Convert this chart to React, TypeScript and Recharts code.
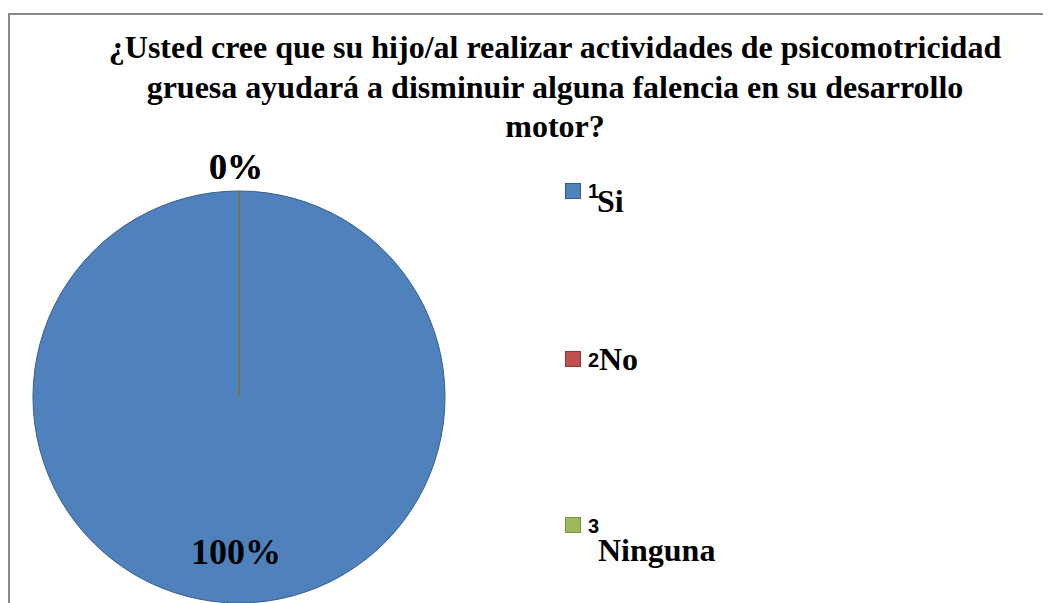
import React from "react";
import { PieChart, Pie, Cell, Legend } from "recharts";

const categories = ["Si", "No", "Ninguna"];
const legendNumbers = ["1", "2", "3"];
const values = [100, 0, 0];
const percentLabels = ["100%", "0%", "0%"];
const titleLines = [
  "¿Usted cree que su hijo/al realizar actividades de psicomotricidad",
  "gruesa ayudará a disminuir alguna falencia en su desarrollo",
  "motor?",
];

const fills = ["#4f81bd", "#c0504d", "#9bbb59"];
const strokes = ["#385d8a", "#8c3836", "#77933c"];

const data = categories.map((name, i) => ({ name, value: values[i], num: legendNumbers[i], pct: percentLabels[i] }));

const SERIF = "'Liberation Serif', 'Times New Roman', serif";
const SANS = "'Liberation Sans', Arial, sans-serif";

// layout of legend entries (name offsets relative to the marker)
const legendLayout = [
  { numTop: -2, nameTop: 2, nameLeft: 32 },
  { numTop: -1, nameTop: -8, nameLeft: 34 },
  { numTop: -1, nameTop: 17, nameLeft: 33 },
];

const RADIAN = Math.PI / 180;

const renderLabel = (props: any) => {
  const { cx, cy, midAngle, outerRadius, index } = props;
  const v = values[index];
  const r = v === 0 ? outerRadius + 24 : outerRadius * 0.75;
  const x = cx + r * Math.cos(-midAngle * RADIAN);
  const y = cy + r * Math.sin(-midAngle * RADIAN);
  const ex = cx + outerRadius * Math.cos(-midAngle * RADIAN);
  const ey = cy + outerRadius * Math.sin(-midAngle * RADIAN);
  return (
    <g key={`lbl-${index}`}>
      {v === 0 && (
        <line x1={cx} y1={cy} x2={ex} y2={ey} stroke={strokes[index]} strokeWidth={1.2} />
      )}
      <text
        x={x - 3}
        y={y + 12}
        textAnchor="middle"
        fontFamily={SERIF}
        fontWeight="bold"
        fontSize={36}
        fill="#000"
      >
        {percentLabels[index]}
      </text>
    </g>
  );
};

const renderLegend = () => (
  <div style={{ position: "relative", width: 200, height: 360 }}>
    {data.map((d, i) => (
      <div key={d.name} style={{ position: "absolute", left: 0, top: [0, 168, 334][i], width: 200, height: 40 }}>
        <div
          style={{
            position: "absolute",
            left: 0,
            top: 0,
            width: 14,
            height: 14,
            background: fills[i],
            border: `1px solid ${strokes[i]}`,
          }}
        />
        <span
          style={{
            position: "absolute",
            left: 23,
            top: legendLayout[i].numTop,
            fontFamily: SANS,
            fontWeight: "bold",
            fontSize: 20,
            lineHeight: 1,
            color: "#000",
          }}
        >
          {d.num}
        </span>
        <span
          style={{
            position: "absolute",
            left: legendLayout[i].nameLeft,
            top: legendLayout[i].nameTop,
            fontFamily: SERIF,
            fontWeight: "bold",
            fontSize: 32,
            lineHeight: 1,
            color: "#000",
            whiteSpace: "nowrap",
          }}
        >
          {d.name}
        </span>
      </div>
    ))}
  </div>
);

export default function App() {
  return (
    <div style={{ position: "relative", width: 1043, height: 595, overflow: "hidden", background: "#fff" }}>
      <div
        style={{
          position: "absolute",
          left: 0,
          top: 5,
          width: 1200,
          height: 800,
          border: "2px solid #888",
          boxSizing: "border-box",
        }}
      />
      <div
        style={{
          position: "absolute",
          left: 47,
          top: 20,
          width: 1000,
          textAlign: "center",
          fontFamily: SERIF,
          fontWeight: "bold",
          fontSize: 32,
          lineHeight: "39.5px",
          color: "#000",
        }}
      >
        {titleLines.map((l, i) => (
          <div key={i}>{l}</div>
        ))}
      </div>
      <div style={{ position: "absolute", left: 0, top: 0 }}>
        <PieChart width={1043} height={595} margin={{ top: 0, right: 0, bottom: 0, left: 0 }}>
          <Pie
            data={data}
            dataKey="value"
            nameKey="name"
            cx={231}
            cy={389}
            outerRadius={206}
            startAngle={90}
            endAngle={-270}
            isAnimationActive={false}
            label={renderLabel}
            labelLine={false}
          >
            {data.map((d, i) => (
              <Cell key={d.name} fill={fills[i]} stroke={strokes[i]} strokeWidth={1} />
            ))}
          </Pie>
          <Legend
            content={renderLegend}
            wrapperStyle={{ position: "absolute", left: 557, top: 175, width: 200, height: 360 }}
          />
        </PieChart>
      </div>
    </div>
  );
}
